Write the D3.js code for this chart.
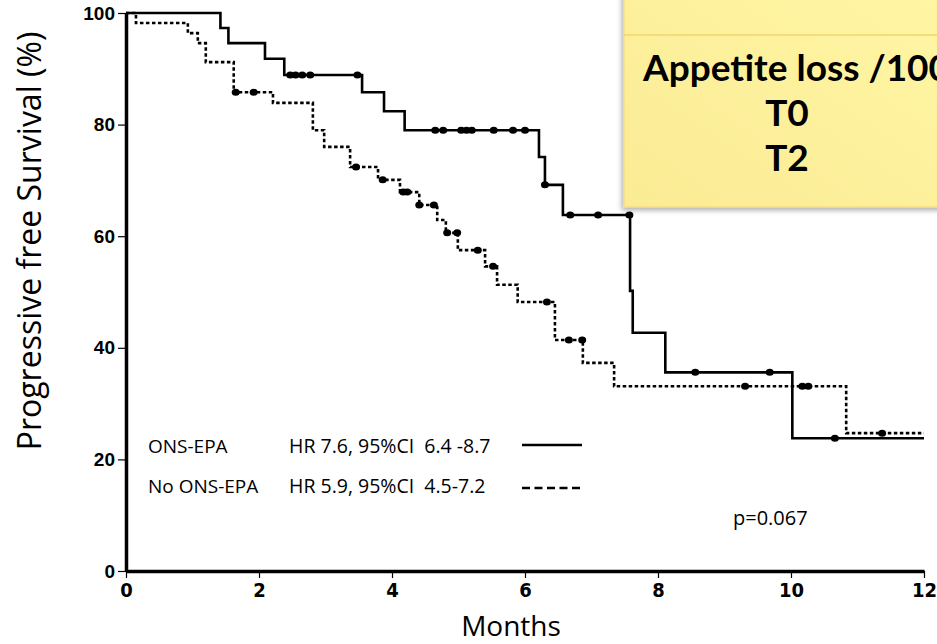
<!DOCTYPE html>
<html><head><meta charset="utf-8">
<script src="https://cdn.jsdelivr.net/npm/d3@7"></script>
<style>
html,body{margin:0;padding:0;background:#fff;}
svg{display:block;}
</style></head>
<body><svg id="c" width="937" height="644"></svg>
<script>
// ---- data ----
const xTicks = [0, 2, 4, 6, 8, 10, 12];
const yTicks = [0, 20, 40, 60, 80, 100];
// ONS-EPA (solid) step times (months) and survival (%)
const onsTimes = [0, 1.42, 1.54, 2.09, 2.38, 3.55, 3.88, 4.19, 6.21, 6.30, 6.57, 7.58, 7.62, 8.11, 10.02, 12];
const onsSurv  = [100, 97.3, 94.6, 91.8, 88.9, 85.8, 82.4, 79.0, 74.2, 69.2, 63.8, 50.2, 42.7, 35.6, 23.8, 23.8];
const onsCensor = [2.47, 2.55, 2.65, 2.77, 3.48, 4.65, 4.77, 5.04, 5.12, 5.20, 5.53, 5.82, 6.00, 6.30, 6.68, 7.10, 7.57, 8.56, 9.68, 10.66];
// No ONS-EPA (dashed)
const noTimes = [0, 0.15, 0.93, 1.08, 1.20, 1.62, 2.21, 2.81, 2.98, 3.37, 3.79, 4.12, 4.41, 4.68, 4.81, 4.99, 5.40, 5.58, 5.89, 6.45, 6.87, 7.34, 10.83, 12];
const noSurv  = [100, 98.2, 96.4, 94.6, 91.2, 85.8, 83.9, 79.0, 76.0, 72.4, 70.1, 67.9, 65.6, 62.9, 60.6, 57.5, 54.6, 51.3, 48.2, 41.4, 37.3, 33.1, 24.7, 24.7];
const noCensor = [1.65, 1.92, 3.46, 3.86, 4.17, 4.23, 4.41, 4.63, 4.83, 4.98, 5.29, 5.52, 6.33, 6.66, 6.86, 9.31, 10.17, 10.26, 11.37];
const legendNames = ["ONS-EPA", "No ONS-EPA"];
const legendHR = ["HR 7.6, 95%CI  6.4 -8.7", "HR 5.9, 95%CI  4.5-7.2"];
const pText = "p=0.067";
const boxLines = ["Appetite loss /100", "T0", "T2"];

// ---- drawing ----
const svg = d3.select("#c");
const x = d3.scaleLinear().domain([0, 12]).range([126, 924]);
const y = d3.scaleLinear().domain([0, 100]).range([571, 13]);

function stepVal(times, surv, t) {
  let v = surv[0];
  for (let i = 0; i < times.length; i++) if (times[i] <= t) v = surv[i];
  return v;
}

// axes
const yAxis = svg.append("g").attr("transform", "translate(126,0)")
  .call(d3.axisLeft(y).tickValues(yTicks).tickSize(8).tickSizeOuter(0).tickPadding(3));
yAxis.attr("font-size", null).attr("font-family", null);
yAxis.selectAll("text")
  .style("font-family", "'Liberation Sans', Arial, sans-serif")
  .style("font-weight", "bold").style("font-size", "19px").attr("fill", "#000");
yAxis.select(".domain").attr("stroke-width", 3.5).attr("stroke", "#000");
yAxis.selectAll(".tick line").attr("stroke-width", 1.2);

const xAxis = svg.append("g").attr("transform", "translate(0,571)")
  .call(d3.axisBottom(x).tickValues(xTicks).tickSize(7).tickSizeOuter(0).tickPadding(5));
xAxis.attr("font-size", null).attr("font-family", null);
xAxis.selectAll("text")
  .style("font-family", "'Liberation Sans Narrow', 'DejaVu Sans Condensed', Arial, sans-serif")
  .style("font-weight", "bold").style("font-size", "20px").attr("fill", "#000");
xAxis.select(".domain").attr("stroke-width", 3.5).attr("stroke", "#000");
xAxis.selectAll(".tick line").attr("stroke-width", 1.2);

// axis titles
svg.append("text").attr("transform", "translate(41,241) rotate(-90)")
  .attr("text-anchor", "middle").attr("font-family", "Open Sans, sans-serif")
  .attr("font-size", 32).attr("fill", "#000").text("Progressive free Survival (%)");
svg.append("text").attr("x", 511).attr("y", 636)
  .attr("text-anchor", "middle").attr("font-family", "Open Sans, sans-serif")
  .attr("font-size", 28).attr("fill", "#000").text("Months");

// curves
const line = d3.line().curve(d3.curveStepAfter).x(d => x(d[0])).y(d => y(d[1]));
svg.append("path").datum(noTimes.map((t, i) => [t, noSurv[i]]))
  .attr("d", line).attr("fill", "none").attr("stroke", "#000")
  .attr("stroke-width", 2.6).attr("stroke-dasharray", "3.5,2.5");
svg.append("path").datum(onsTimes.map((t, i) => [t, onsSurv[i]]))
  .attr("d", line).attr("fill", "none").attr("stroke", "#000").attr("stroke-width", 2.6);

// censor marks
svg.append("g").selectAll("ellipse").data(onsCensor).join("ellipse")
  .attr("cx", d => x(d)).attr("cy", d => y(stepVal(onsTimes, onsSurv, d)))
  .attr("rx", 4).attr("ry", 3.5).attr("fill", "#000");
svg.append("g").selectAll("ellipse").data(noCensor).join("ellipse")
  .attr("cx", d => x(d)).attr("cy", d => y(stepVal(noTimes, noSurv, d)))
  .attr("rx", 4).attr("ry", 3.5).attr("fill", "#000");

// legend
const lg = svg.append("g").attr("font-family", "Open Sans, sans-serif").attr("fill", "#000");
legendNames.forEach((n, i) => {
  const yy = 453 + i * 40;
  lg.append("text").attr("x", 148).attr("y", yy).attr("font-size", 19).text(n);
  lg.append("text").attr("x", 289).attr("y", yy).attr("font-size", 19.5)
    .attr("xml:space", "preserve").style("white-space", "pre").text(legendHR[i]);
  const ly = i ? 488 : 445;
  lg.append("line").attr("x1", 522).attr("x2", 582).attr("y1", ly).attr("y2", ly)
    .attr("stroke", "#000").attr("stroke-width", 2.6)
    .attr("stroke-dasharray", i ? "8,4.5" : null);
});
svg.append("text").attr("x", 733).attr("y", 525).attr("font-family", "Open Sans, sans-serif")
  .attr("font-size", 20).attr("fill", "#000").text(pText);

// yellow note box
const defs = svg.append("defs");
const gr = defs.append("linearGradient").attr("id", "yg").attr("x1", 0).attr("y1", 1).attr("x2", 1).attr("y2", 0);
gr.append("stop").attr("offset", "0%").attr("stop-color", "#fbeb95");
gr.append("stop").attr("offset", "100%").attr("stop-color", "#fff6a4");
const flt = defs.append("filter").attr("id", "sh").attr("x", "-10%").attr("y", "-10%").attr("width", "130%").attr("height", "130%");
flt.append("feDropShadow").attr("dx", -2).attr("dy", 3).attr("stdDeviation", 2.5).attr("flood-color", "#000").attr("flood-opacity", 0.3);
svg.append("rect").attr("x", 624).attr("y", -10).attr("width", 330).attr("height", 217)
  .attr("fill", "url(#yg)").attr("stroke", "#f2d77a").attr("stroke-width", 1).attr("filter", "url(#sh)");
svg.append("line").attr("x1", 624).attr("x2", 937).attr("y1", 35).attr("y2", 35)
  .attr("stroke", "#f5d46c").attr("stroke-width", 1.5);
const bt = svg.append("g").attr("font-family", "Lato, sans-serif").attr("font-weight", "bold")
  .attr("font-size", 37).attr("fill", "#000");
bt.append("text").attr("x", 643).attr("y", 81).text(boxLines[0]);
bt.append("text").attr("x", 787).attr("y", 126).attr("text-anchor", "middle").text(boxLines[1]);
bt.append("text").attr("x", 787).attr("y", 171).attr("text-anchor", "middle").text(boxLines[2]);
</script></body></html>
